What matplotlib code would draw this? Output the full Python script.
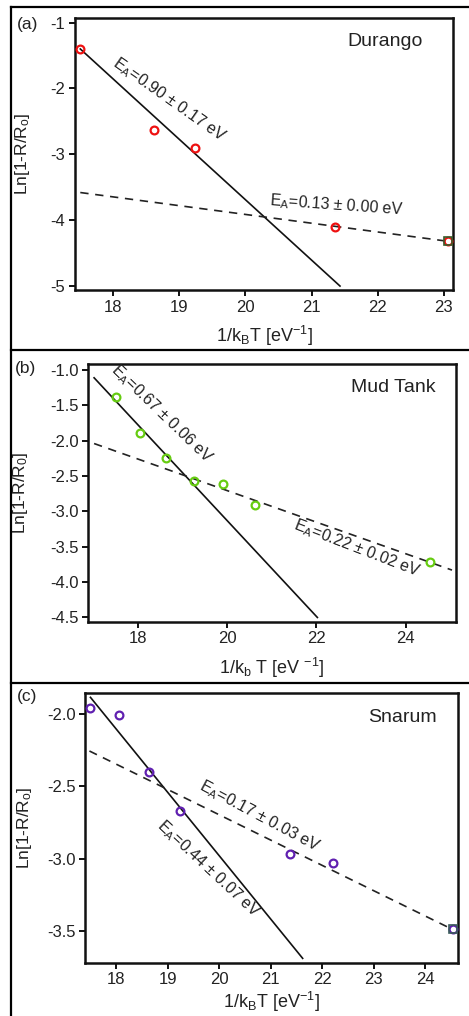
import matplotlib
matplotlib.use("Agg")
import matplotlib.pyplot as plt
from matplotlib.lines import Line2D

plt.rcParams['font.family'] = ['Liberation Sans', 'DejaVu Sans']
plt.rcParams['mathtext.default'] = 'regular'

# ---------------- data ----------------
# (a) Durango
a_x = [17.50, 18.62, 19.24, 21.36, 23.06]
a_y = [-1.40, -2.63, -2.90, -4.10, -4.32]
a_solid_x = [17.50, 21.43]
a_solid_y = [-1.40, -5.00]
a_dash_x = [17.50, 23.06]
a_dash_y = [-3.58, -4.32]

# (b) Mud Tank
b_x = [17.50, 18.05, 18.63, 19.25, 19.91, 20.61, 24.55]
b_y = [-1.38, -1.89, -2.24, -2.57, -2.61, -2.91, -3.72]
b_solid_x = [17.01, 22.02]
b_solid_y = [-1.11, -4.50]
b_dash_x = [17.01, 25.04]
b_dash_y = [-2.04, -3.83]

# (c) Snarum
c_x = [17.49, 18.05, 18.63, 19.24, 21.37, 22.20, 24.53]
c_y = [-1.96, -2.01, -2.40, -2.67, -2.97, -3.03, -3.49]
c_solid_x = [17.50, 21.62]
c_solid_y = [-1.885, -3.69]
c_dash_x = [17.48, 24.53]
c_dash_y = [-2.256, -3.49]

W, H = 469, 1016
fig = plt.figure(figsize=(W / 100, H / 100), dpi=100)

def rect(l, t, r, b):
    return [l / W, 1 - b / H, (r - l) / W, (b - t) / H]

TXT = '#222222'

def style(ax):
    for s in ax.spines.values():
        s.set_linewidth(1.8)
        s.set_color('#111111')
    ax.tick_params(direction='out', length=4, width=1.4, labelsize=12,
                   colors='#111111', labelcolor=TXT, right=False, top=False,
                   pad=3)

def panel(box, xs, ys, color, sx, sy, dx, dy, xlim, ylim, xticks, yticks,
          yfmt, xlabel, ylabel, name, name_xy, label, label_xy,
          t1, t1_xy, t1_rot, t2, t2_xy, t2_rot, ylab_x, xlab_y, special=None):
    ax = fig.add_axes(rect(*box))
    ax.plot(sx, sy, color='#111111', lw=1.2, zorder=2)
    ax.plot(dx, dy, color='#222222', lw=1.2, ls=(0, (5, 4)), zorder=2)
    ax.plot(xs, ys, ls='none', marker='o', ms=5.6, mfc='none', mec=color,
            mew=1.6, zorder=3, clip_on=False)
    if special:
        for (i, mk, ec) in special:
            ax.plot([xs[i]], [ys[i]], ls='none', marker=mk, ms=6, mfc='none',
                    mec=ec, mew=1.2, zorder=4, clip_on=False)
    ax.set_xlim(*xlim)
    ax.set_ylim(*ylim)
    ax.set_xticks(xticks)
    ax.set_yticks(yticks)
    ax.set_yticklabels([yfmt.format(v) for v in yticks])
    style(ax)
    fig.text(ylab_x / W, 1 - ((box[1] + box[3]) / 2) / H, ylabel, rotation=90,
             ha='center', va='center', fontsize=12.5, color=TXT)
    fig.text(((box[0] + box[2]) / 2) / W, 1 - xlab_y / H, xlabel,
             ha='center', va='center', fontsize=13, color=TXT)
    fig.text(label_xy[0] / W, 1 - label_xy[1] / H, label, ha='left',
             va='center', fontsize=12.5, color=TXT)
    fig.text(name_xy[0] / W, 1 - name_xy[1] / H, name, ha='center',
             va='center', fontsize=14, color=TXT)
    ax.text(t1_xy[0], t1_xy[1], t1, rotation=t1_rot, rotation_mode='anchor',
            ha='center', va='center', fontsize=11.5, color=TXT)
    ax.text(t2_xy[0], t2_xy[1], t2, rotation=t2_rot, rotation_mode='anchor',
            ha='center', va='center', fontsize=11.5, color=TXT)
    return ax

# panel (a)
panel((75, 18, 453, 290), a_x, a_y, '#ee1111', a_solid_x, a_solid_y,
      a_dash_x, a_dash_y, (17.42, 23.14), (-5.06, -0.93),
      [18, 19, 20, 21, 22, 23], [-1, -2, -3, -4, -5], '{:.0f}',
      r'1/k$_B$T [eV$^{-1}$]', r'Ln[1-R/R$_o$]', 'Durango', (385, 42),
      '(a)', (17, 24),
      r'E$_A$=0.90 ± 0.17 eV', (18.84, -2.17), -35,
      r'E$_A$=0.13 ± 0.00 eV', (21.38, -3.77), -4,
      22, 336, special=[(4, 's', '#3a5a2a')])

# panel (b)
panel((88.3, 364, 456, 621.7), b_x, b_y, '#66cc11', b_solid_x, b_solid_y,
      b_dash_x, b_dash_y, (16.88, 25.13), (-4.56, -0.915),
      [18, 20, 22, 24], [-1.0, -1.5, -2.0, -2.5, -3.0, -3.5, -4.0, -4.5],
      '{:.1f}', r'1/k$_b$ T [eV $^{-1}$]', r'Ln[1-R/R$_0$]', 'Mud Tank',
      (393, 387), '(b)', (15, 368),
      r'E$_A$=0.67 ± 0.06 eV', (18.53, -1.62), -44,
      r'E$_A$=0.22 ± 0.02 eV', (22.90, -3.52), -21,
      20, 668)

# panel (c)
panel((85.3, 693.3, 457.7, 962.7), c_x, c_y, '#6020b0', c_solid_x, c_solid_y,
      c_dash_x, c_dash_y, (17.40, 24.63), (-3.72, -1.857),
      [18, 19, 20, 21, 22, 23, 24], [-2.0, -2.5, -3.0, -3.5], '{:.1f}',
      r'1/k$_B$T [eV$^{-1}$]', r'Ln[1-R/R$_o$]', 'Snarum', (402, 718),
      '(c)', (17, 697),
      r'E$_A$=0.44 ± 0.07 eV', (19.79, -3.07), -43,
      r'E$_A$=0.17 ± 0.03 eV', (20.78, -2.71), -28,
      25, 1002, special=[(6, 's', '#3a5a5a')])

# panel frames
def fline(x0, y0, x1, y1):
    fig.add_artist(Line2D([x0 / W, x1 / W], [1 - y0 / H, 1 - y1 / H],
                          color='black', lw=1.6))

fline(11, 7, 11, H)
fline(11, 7, W, 7)
fline(11, 350, W, 350)
fline(11, 683, W, 683)

fig.savefig('out.png', dpi=100)
